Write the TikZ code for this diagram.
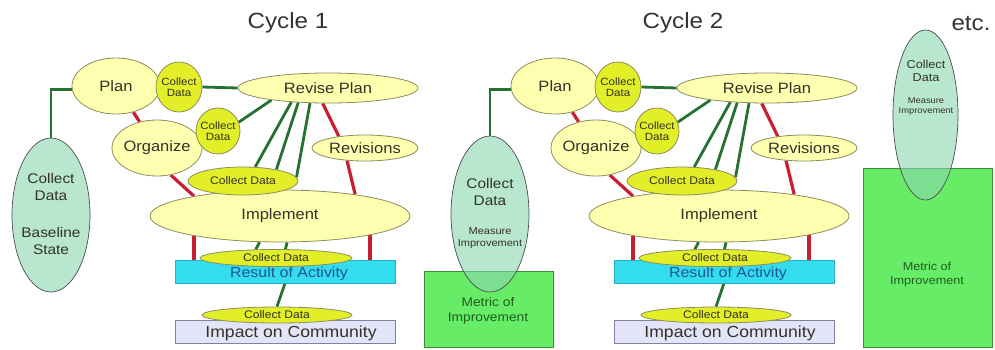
\documentclass[tikz,border=0pt]{standalone}
\usepackage{fontspec}
\setmainfont[FakeStretch=1.1]{Liberation Sans}
\usetikzlibrary{shapes.geometric}
\pgfdeclarelayer{bg}
\pgfsetlayers{bg,main}
\definecolor{pale}{RGB}{255,255,176}
\definecolor{paleb}{RGB}{140,140,95}
\definecolor{cdfill}{RGB}{226,238,40}
\definecolor{mint}{RGB}{184,230,207}
\definecolor{mintx}{RGB}{137,213,175}
\definecolor{metric}{RGB}{102,236,102}
\definecolor{metricb}{RGB}{60,140,60}
\definecolor{cyanr}{RGB}{51,221,238}
\definecolor{lav}{RGB}{228,228,248}
\definecolor{lavb}{RGB}{130,130,160}
\definecolor{lgreen}{RGB}{38,112,50}
\definecolor{lred}{RGB}{200,30,50}
\definecolor{txt}{RGB}{50,50,40}
\definecolor{restxt}{RGB}{30,85,150}
\definecolor{mettxt}{RGB}{30,95,30}
\tikzset{
  ell/.style={ellipse, draw=paleb, line width=0.8pt, fill=pale, inner sep=0pt},
  cd/.style={ellipse, draw=paleb, line width=0.8pt, fill=cdfill, inner sep=0pt},
  mintell/.style={ellipse, draw=black!70, line width=0.7pt, fill=mint, inner sep=0pt},
  mintov/.style={ellipse, draw=black!70, line width=0.7pt, fill=mintx, fill opacity=0.6, inner sep=0pt},
  metricbox/.style={rectangle, draw=metricb, line width=0.8pt, fill=metric, inner sep=0pt},
  resbox/.style={rectangle, draw=cyanr!80!black, line width=0.6pt, fill=cyanr, inner sep=0pt},
  impbox/.style={rectangle, draw=lavb, line width=0.8pt, fill=lav, inner sep=0pt},
  lbl/.style={text=txt, font=\fontsize{15}{17}\selectfont, align=center, inner sep=0pt},
  sm/.style={text=txt, font=\fontsize{10.5}{11.5}\selectfont, align=center, inner sep=0pt},
  cdt/.style={text=txt, font=\fontsize{11}{13}\selectfont, align=center, inner sep=0pt},
  bigt/.style={text=txt, font=\fontsize{14}{17}\selectfont, align=center, inner sep=0pt},
  tinyt/.style={text=txt, font=\fontsize{10}{12}\selectfont, align=center, inner sep=0pt},
  mett/.style={text=mettxt, font=\fontsize{12.5}{15.5}\selectfont, align=center, inner sep=0pt},
  titlet/.style={text=black!80, font=\fontsize{22}{24}\selectfont, inner sep=0pt, anchor=base},
  glink/.style={draw=lgreen, line width=2.8pt},
  rlink/.style={draw=lred, line width=3.2pt},
}
\newcommand\cyclecore{%
  \node[ell, minimum width=88pt, minimum height=56pt] (plan) at (116,86) {};
  \node[lbl] (plant) at (plan) {Plan};
  \node[cd, minimum width=46pt, minimum height=50pt] (cdp) at (179,87) {};
  \node[sm] (cdpt) at (cdp) {Collect\\Data};
  \node[ell, minimum width=180pt, minimum height=30pt] (rev) at (328,88) {};
  \node[lbl] (revt) at (rev) {Revise Plan};
  \node[ell, minimum width=90pt, minimum height=56pt] (org) at (157,148) {};
  \node[lbl] (orgt) at (org) {Organize};
  \node[cd, minimum width=44pt, minimum height=46pt] (cdo) at (218,131) {};
  \node[sm] (cdot) at (cdo) {Collect\\Data};
  \node[ell, minimum width=106pt, minimum height=26pt] (revs) at (365,148) {};
  \node[lbl] (revst) at (revs) {Revisions};
  \node[ell, minimum width=260pt, minimum height=52pt] (impl) at (280,216) {};
  \node[lbl] (implt) at (impl) {Implement};
  \node[cd, minimum width=110pt, minimum height=28pt] (cdi) at (243,181) {};
  \node[cdt] (cdit) at (cdi) {Collect Data};
  \node[resbox, minimum width=220pt, minimum height=23pt] (res) at (285,271.5) {};
  \node[lbl, text=restxt, font=\fontsize{14.5}{16}\selectfont] (rest) at (289,274) {Result of Activity};
  \node[cd, minimum width=152pt, minimum height=17pt] (cdr) at (276,258) {};
  \node[cdt] (cdrt) at (cdr) {Collect Data};
  \node[impbox, minimum width=220pt, minimum height=23pt] (imp) at (285,331.5) {};
  \node[lbl, font=\fontsize{16}{18}\selectfont] (impt) at (291,333) {Impact on Community};
  \node[cd, minimum width=150pt, minimum height=16pt] (cdc) at (277,315) {};
  \node[cdt] (cdct) at (cdc) {Collect Data};
  \begin{pgfonlayer}{bg}
    \draw[glink] (plan.185) -| (base.north);
    \draw[glink] (cdp.east) -- (rev.west);
    \draw[glink] (rev.192.5) -- (cdo.23);
    \draw[glink] (rev.-159) -- (cdi.49);
    \draw[glink] (rev.-154) -- (cdi.19);
    \draw[glink] (rev.-140) -- (cdi.4);
    \draw[rlink] (plan) -- (org);
    \draw[rlink] (org.-63) -- (impl.167);
    \draw[rlink] (rev.-109) -- (revs.156);
    \draw[rlink] (revs.-145) -- (impl.16);
    \draw[rlink] (impl.-167) -- (impl.-167 |- res.north);
    \draw[rlink] (impl.-12) -- (impl.-12 |- res.north);
    \draw[glink] (impl.-128) -- (cdr.157);
    \draw[glink] (impl.-75) -- (cdr.43);
    \draw[glink] (res.south) -- (cdc.north);
  \end{pgfonlayer}
}
\begin{document}
\begin{tikzpicture}[x=1pt, y=-1pt]
  \useasboundingbox (0,0) rectangle (995,349);
  % titles
  \node[titlet] (t1) at (288,28) {Cycle 1};
  \node[titlet] (t2) at (683,28) {Cycle 2};
  \node[titlet] (t3) at (971,30) {etc.};
  % cycle 1
  \begin{scope}[name prefix=c1-]
    \node[mintell, minimum width=78pt, minimum height=154pt] (base) at (51,215) {};
    \node[bigt] (baset1) at (51,187) {Collect\\Data};
    \node[bigt] (baset2) at (51,241) {Baseline\\State};
    \cyclecore
  \end{scope}
  % cycle 2
  \begin{scope}[xshift=439pt, name prefix=c2-]
    \node[metricbox, minimum width=129pt, minimum height=76pt] (met) at (49.5,309) {};
    \node[mintov, minimum width=78pt, minimum height=156pt] (base) at (51,214) {};
    \node[bigt] (baset1) at (51,192) {Collect\\Data};
    \node[tinyt] (baset2) at (51,238) {Measure\\Improvement};
    \node[mett] (mett) at (49,311) {Metric of\\Improvement};
    \cyclecore
  \end{scope}
  % etc column
  \node[metricbox, minimum width=129pt, minimum height=179pt] (met3) at (927.5,257.5) {};
  \node[mintov, minimum width=65pt, minimum height=170pt] (base3) at (925.5,115) {};
  \node[bigt, font=\fontsize{11.5}{13}\selectfont] (base3t1) at (926,71) {Collect\\Data};
  \node[tinyt, font=\fontsize{8.5}{10}\selectfont] (base3t2) at (926,106) {Measure\\Improvement};
  \node[mett, font=\fontsize{11.5}{14}\selectfont] (met3t) at (927,275) {Metric of\\Improvement};
\end{tikzpicture}
\end{document}
